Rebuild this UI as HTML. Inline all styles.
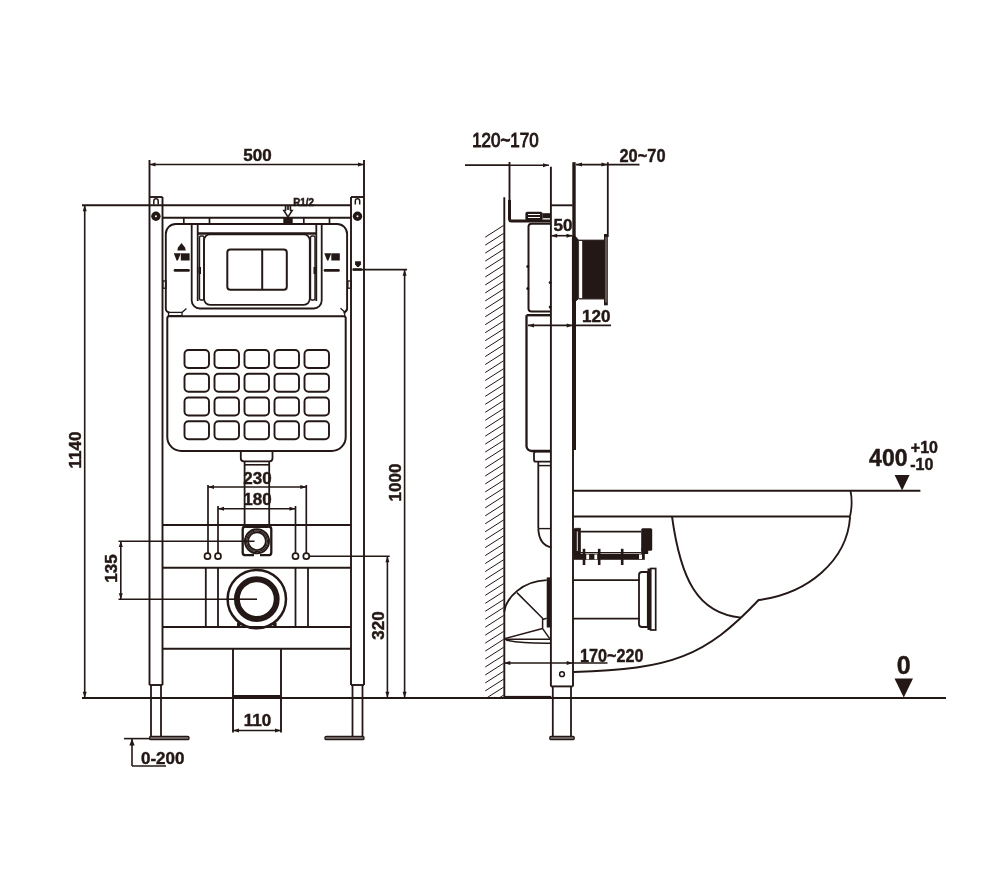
<!DOCTYPE html>
<html><head><meta charset="utf-8"><style>
html,body{margin:0;padding:0;background:#fff;width:1000px;height:889px;overflow:hidden}
svg{display:block;will-change:transform}
text{font-family:"Liberation Sans",sans-serif;fill:#231815;stroke:none}
</style></head><body>
<svg width="1000" height="889" viewBox="0 0 1000 889" stroke="#231815" fill="none" stroke-linecap="butt">
<rect x="0" y="0" width="1000" height="889" fill="#fff" stroke="none"/>
<text x="257.5" y="160.8" font-size="17" font-weight="bold" text-anchor="middle" style="stroke:#231815;stroke-width:0.45">500</text>
<line x1="149.5" y1="164.5" x2="364" y2="164.5" stroke-width="1.60"/>
<polygon points="149.50,164.50 155.50,162.50 155.50,166.50" stroke="none" fill="#231815"/>
<polygon points="364.00,164.50 358.00,162.50 358.00,166.50" stroke="none" fill="#231815"/>
<line x1="149.5" y1="160" x2="149.5" y2="685" stroke-width="1.90"/>
<line x1="162.5" y1="197" x2="162.5" y2="685" stroke-width="1.90"/>
<line x1="149.5" y1="197" x2="162.5" y2="197" stroke-width="1.90"/>
<line x1="149.5" y1="685" x2="162.5" y2="685" stroke-width="1.90"/>
<line x1="364" y1="160" x2="364" y2="685" stroke-width="1.90"/>
<line x1="351" y1="197" x2="351" y2="685" stroke-width="1.90"/>
<line x1="364" y1="197" x2="351" y2="197" stroke-width="1.90"/>
<line x1="364" y1="685" x2="351" y2="685" stroke-width="1.90"/>
<line x1="151" y1="685" x2="151" y2="737" stroke-width="1.80"/>
<line x1="161" y1="685" x2="161" y2="737" stroke-width="1.80"/>
<line x1="352.5" y1="685" x2="352.5" y2="737" stroke-width="1.80"/>
<line x1="362.5" y1="685" x2="362.5" y2="737" stroke-width="1.80"/>
<rect x="149.6" y="736.3" width="39.4" height="3.3" rx="1.2" stroke-width="1.30" fill="#6e6363"/>
<rect x="325" y="736.3" width="39" height="3.3" rx="1.2" stroke-width="1.30" fill="#6e6363"/>
<path d="M153.8,204.5 V201 a2.2,2.2 0 0 1 4.4,0 V204.5" stroke-width="1.50" fill="none"/>
<path d="M355.3,204.5 V201 a2.2,2.2 0 0 1 4.4,0 V204.5" stroke-width="1.50" fill="none"/>
<circle cx="155.9" cy="216.2" r="4.7" stroke="none" fill="#231815"/>
<circle cx="155.9" cy="216.2" r="1.0" stroke="none" fill="#fff"/>
<circle cx="357.5" cy="216.2" r="4.7" stroke="none" fill="#231815"/>
<circle cx="357.5" cy="216.2" r="1.0" stroke="none" fill="#fff"/>
<line x1="82" y1="205.3" x2="351" y2="205.3" stroke-width="1.90"/>
<line x1="162.5" y1="217.7" x2="351" y2="217.7" stroke-width="2.00"/>
<line x1="183.8" y1="217.7" x2="183.8" y2="223.8" stroke-width="1.70"/>
<line x1="209.5" y1="217.7" x2="209.5" y2="223.8" stroke-width="1.70"/>
<line x1="303.8" y1="217.7" x2="303.8" y2="223.8" stroke-width="1.70"/>
<line x1="329.5" y1="217.7" x2="329.5" y2="223.8" stroke-width="1.70"/>
<rect x="283.3" y="218" width="9.4" height="5.8" rx="0" stroke="none" fill="#231815"/>
<path d="M285.5,205.5 V210.5 H283.8 L288,217 L292.2,210.5 H290.5 V205.5" stroke-width="1.50" fill="none"/>
<line x1="287.3" y1="206" x2="287.3" y2="210" stroke-width="1.10"/>
<line x1="288.7" y1="206" x2="288.7" y2="210" stroke-width="1.10"/>
<text x="303.6" y="206.3" font-size="10" font-weight="bold" text-anchor="middle" textLength="20.8" lengthAdjust="spacingAndGlyphs" style="stroke:#231815;stroke-width:0.5">R1/2</text>
<path d="M169.5,312.5 a3.7,3.7 0 0 1 -3.7,-3.7 V234 a10,10 0 0 1 10,-10 H337.1 a10,10 0 0 1 10,10 V308.8 a3.7,3.7 0 0 1 -3.7,3.7" stroke-width="1.90" fill="none"/>
<path d="M167.3,318.2 a2,2 0 0 1 2,-2 H343.7 a2,2 0 0 1 2,2 V437 a14,14 0 0 1 -14,14 H181.3 a14,14 0 0 1 -14,-14 Z" stroke-width="2.00" fill="none"/>
<path d="M191.7,224 V300.5 a8,8 0 0 0 8,8 H313.7 a8,8 0 0 0 8,-8 V224" stroke-width="1.80" fill="none"/>
<line x1="197.7" y1="224.5" x2="197.7" y2="301" stroke-width="1.80"/>
<line x1="316.3" y1="224.5" x2="316.3" y2="301" stroke-width="1.80"/>
<line x1="197.7" y1="233.5" x2="316.3" y2="233.5" stroke-width="2.60"/>
<rect x="199.5" y="236" width="4.5" height="64" rx="1.5" stroke-width="1.40" fill="none"/>
<rect x="310.5" y="236" width="4.5" height="64" rx="1.5" stroke-width="1.40" fill="none"/>
<rect x="198.5" y="267" width="2.5" height="7" rx="0" stroke="none" fill="#231815"/>
<rect x="313.5" y="267" width="2.5" height="7" rx="0" stroke="none" fill="#231815"/>
<rect x="204" y="234.3" width="105.8" height="70.5" rx="6" stroke-width="1.80" fill="none"/>
<rect x="227.3" y="249.6" width="59.5" height="40.2" rx="3" stroke-width="2.00" fill="none"/>
<line x1="262.2" y1="249.6" x2="262.2" y2="289.8" stroke-width="2.00"/>
<path d="M181.5,243 L178,247.5 L177.3,250.5 H185.8 L185,247.5 Z" stroke="none" fill="#231815"/>
<polygon points="173.8,253.3 180.8,253.3 177.9,260.5 176.6,260.5" stroke="none" fill="#231815"/>
<rect x="180.8" y="253.3" width="8.8" height="7.2" stroke="none" fill="#231815"/>
<line x1="175" y1="270.4" x2="188.5" y2="270.4" stroke-width="2.7" stroke-linecap="round"/>
<polygon points="324.3,253.3 331.3,253.3 328.4,260.5 327.1,260.5" stroke="none" fill="#231815"/>
<rect x="331.3" y="253.3" width="8.5" height="7.2" stroke="none" fill="#231815"/>
<line x1="325" y1="270.4" x2="338.5" y2="270.4" stroke-width="2.7" stroke-linecap="round"/>
<path d="M355.1,261.2 H360.9 V264.5 L358.8,267 H357.2 L355.1,264.5 Z" stroke="none" fill="#231815"/>
<rect x="352.5" y="268.3" width="9.5" height="2.4" rx="0.8" stroke="none" fill="#231815"/>
<line x1="352.8" y1="269.6" x2="407" y2="269.6" stroke-width="1.60"/>
<rect x="162.8" y="281" width="3.2" height="7.2" rx="0" stroke-width="1.30" fill="none"/>
<rect x="347.9" y="281" width="3.2" height="7.2" rx="0" stroke-width="1.30" fill="none"/>
<rect x="168.5" y="312.4" width="13.5" height="3.3" rx="0" stroke-width="1.30" fill="none"/>
<line x1="182" y1="312.4" x2="186.4" y2="308.5" stroke-width="1.30"/>
<path d="M340.5,308.3 L344.7,312 L347.1,309 M344.7,312 V316.2" stroke-width="1.30" fill="none"/>
<rect x="184.5" y="350" width="24.5" height="18" rx="4" stroke-width="1.90" fill="none"/>
<rect x="214.5" y="350" width="24.5" height="18" rx="4" stroke-width="1.90" fill="none"/>
<rect x="244.5" y="350" width="24.5" height="18" rx="4" stroke-width="1.90" fill="none"/>
<rect x="274.5" y="350" width="24.5" height="18" rx="4" stroke-width="1.90" fill="none"/>
<rect x="304.5" y="350" width="24.5" height="18" rx="4" stroke-width="1.90" fill="none"/>
<rect x="184.5" y="373.8" width="24.5" height="18" rx="4" stroke-width="1.90" fill="none"/>
<rect x="214.5" y="373.8" width="24.5" height="18" rx="4" stroke-width="1.90" fill="none"/>
<rect x="244.5" y="373.8" width="24.5" height="18" rx="4" stroke-width="1.90" fill="none"/>
<rect x="274.5" y="373.8" width="24.5" height="18" rx="4" stroke-width="1.90" fill="none"/>
<rect x="304.5" y="373.8" width="24.5" height="18" rx="4" stroke-width="1.90" fill="none"/>
<rect x="184.5" y="397.5" width="24.5" height="18" rx="4" stroke-width="1.90" fill="none"/>
<rect x="214.5" y="397.5" width="24.5" height="18" rx="4" stroke-width="1.90" fill="none"/>
<rect x="244.5" y="397.5" width="24.5" height="18" rx="4" stroke-width="1.90" fill="none"/>
<rect x="274.5" y="397.5" width="24.5" height="18" rx="4" stroke-width="1.90" fill="none"/>
<rect x="304.5" y="397.5" width="24.5" height="18" rx="4" stroke-width="1.90" fill="none"/>
<rect x="184.5" y="421.3" width="24.5" height="18" rx="4" stroke-width="1.90" fill="none"/>
<rect x="214.5" y="421.3" width="24.5" height="18" rx="4" stroke-width="1.90" fill="none"/>
<rect x="244.5" y="421.3" width="24.5" height="18" rx="4" stroke-width="1.90" fill="none"/>
<rect x="274.5" y="421.3" width="24.5" height="18" rx="4" stroke-width="1.90" fill="none"/>
<rect x="304.5" y="421.3" width="24.5" height="18" rx="4" stroke-width="1.90" fill="none"/>
<path d="M240.8,451 V458.3 a3,3 0 0 0 3,3 H269.5 a3,3 0 0 0 3,-3 V451" stroke-width="1.80" fill="none"/>
<line x1="244.6" y1="464.8" x2="269.2" y2="464.8" stroke-width="1.60"/>
<line x1="244.6" y1="461" x2="244.6" y2="525" stroke-width="1.80"/>
<line x1="269.2" y1="461" x2="269.2" y2="525" stroke-width="1.80"/>
<text x="257.5" y="484.3" font-size="17" font-weight="bold" text-anchor="middle" style="stroke:#231815;stroke-width:0.45">230</text>
<line x1="208" y1="487" x2="306.3" y2="487" stroke-width="1.60"/>
<polygon points="208.00,487.00 214.00,485.00 214.00,489.00" stroke="none" fill="#231815"/>
<polygon points="306.30,487.00 300.30,485.00 300.30,489.00" stroke="none" fill="#231815"/>
<text x="257.5" y="505.3" font-size="17" font-weight="bold" text-anchor="middle" style="stroke:#231815;stroke-width:0.45">180</text>
<line x1="218" y1="508.8" x2="295.5" y2="508.8" stroke-width="1.60"/>
<polygon points="218.00,508.80 224.00,506.80 224.00,510.80" stroke="none" fill="#231815"/>
<polygon points="295.50,508.80 289.50,506.80 289.50,510.80" stroke="none" fill="#231815"/>
<line x1="208" y1="485" x2="208" y2="553" stroke-width="1.70"/>
<line x1="306.3" y1="485" x2="306.3" y2="553" stroke-width="1.70"/>
<line x1="218" y1="506" x2="218" y2="553" stroke-width="1.70"/>
<line x1="295.5" y1="506" x2="295.5" y2="553" stroke-width="1.70"/>
<line x1="162.5" y1="525" x2="351" y2="525" stroke-width="2.00"/>
<line x1="162.5" y1="567.7" x2="351" y2="567.7" stroke-width="2.00"/>
<path d="M254,555.2 H245.5 a2.8,2.8 0 0 1 -2.8,-2.8 V529.3 a2.8,2.8 0 0 1 2.8,-2.8 H268.5 a2.8,2.8 0 0 1 2.8,2.8 V552.4 a2.8,2.8 0 0 1 -2.8,2.8 H260" stroke-width="2.30" fill="none"/>
<rect x="245.5" y="524.8" width="23" height="3.2" rx="0" stroke="none" fill="#231815"/>
<circle cx="257" cy="541.2" r="12.0" stroke-width="2.00" fill="#fff"/>
<circle cx="257" cy="541.2" r="10.4" stroke-width="1.20" fill="none"/>
<circle cx="257" cy="541.2" r="8.9" stroke-width="1.90" fill="none"/>
<circle cx="207.5" cy="556.2" r="3.0" stroke-width="1.70" fill="#fff"/>
<circle cx="218" cy="556.2" r="3.0" stroke-width="1.70" fill="#fff"/>
<circle cx="295.5" cy="556.2" r="3.0" stroke-width="1.70" fill="#fff"/>
<circle cx="306.3" cy="556.2" r="3.0" stroke-width="1.70" fill="#fff"/>
<line x1="309.3" y1="556.2" x2="389.7" y2="556.2" stroke-width="1.60"/>
<line x1="118.5" y1="541.2" x2="254.5" y2="541.2" stroke-width="1.60"/>
<line x1="118.5" y1="599.2" x2="257" y2="599.2" stroke-width="1.60"/>
<line x1="120.8" y1="541" x2="120.8" y2="599.2" stroke-width="1.60"/>
<polygon points="120.80,541.00 118.80,547.00 122.80,547.00" stroke="none" fill="#231815"/>
<polygon points="120.80,599.20 118.80,593.20 122.80,593.20" stroke="none" fill="#231815"/>
<text x="117" y="568.5" font-size="17" font-weight="bold" text-anchor="middle" transform="rotate(-90 117 568.5)" style="stroke:#231815;stroke-width:0.45">135</text>
<line x1="205.8" y1="567.7" x2="205.8" y2="627" stroke-width="1.80"/>
<line x1="218" y1="567.7" x2="218" y2="627" stroke-width="1.80"/>
<line x1="295.5" y1="567.7" x2="295.5" y2="627" stroke-width="1.80"/>
<line x1="308" y1="567.7" x2="308" y2="627" stroke-width="1.80"/>
<circle cx="256.8" cy="599.1" r="29.2" stroke-width="2.50" fill="#fff"/>
<circle cx="256.8" cy="599.1" r="19.9" stroke-width="5.90" fill="none"/>
<rect x="237" y="622.5" width="3.4" height="4.5" rx="1" stroke="none" fill="#231815"/>
<rect x="273.2" y="622.5" width="3.4" height="4.5" rx="1" stroke="none" fill="#231815"/>
<line x1="227" y1="599.2" x2="257" y2="599.2" stroke-width="1.60"/>
<line x1="162.5" y1="627" x2="351" y2="627" stroke-width="2.00"/>
<line x1="162.5" y1="648.8" x2="351" y2="648.8" stroke-width="2.00"/>
<line x1="233" y1="648.8" x2="233" y2="732.5" stroke-width="1.90"/>
<line x1="281" y1="648.8" x2="281" y2="732.5" stroke-width="1.90"/>
<line x1="233" y1="696.5" x2="281" y2="696.5" stroke-width="3.20"/>
<line x1="82" y1="698" x2="946" y2="698" stroke-width="2.00"/>
<rect x="504.1" y="695.9" width="47.1" height="2.9" rx="0" stroke="none" fill="#231815"/>
<line x1="84.7" y1="205.3" x2="84.7" y2="697.8" stroke-width="1.60"/>
<polygon points="84.70,205.30 82.70,211.30 86.70,211.30" stroke="none" fill="#231815"/>
<polygon points="84.70,697.80 82.70,691.80 86.70,691.80" stroke="none" fill="#231815"/>
<text x="80.8" y="450" font-size="17" font-weight="bold" text-anchor="middle" transform="rotate(-90 80.8 450)" style="stroke:#231815;stroke-width:0.45">1140</text>
<line x1="404.6" y1="269.8" x2="404.6" y2="697.8" stroke-width="1.60"/>
<polygon points="404.60,269.80 402.60,275.80 406.60,275.80" stroke="none" fill="#231815"/>
<polygon points="404.60,697.80 402.60,691.80 406.60,691.80" stroke="none" fill="#231815"/>
<text x="401.2" y="482.5" font-size="17" font-weight="bold" text-anchor="middle" transform="rotate(-90 401.2 482.5)" style="stroke:#231815;stroke-width:0.45">1000</text>
<line x1="387.4" y1="556.2" x2="387.4" y2="697.8" stroke-width="1.60"/>
<polygon points="387.40,556.20 385.40,562.20 389.40,562.20" stroke="none" fill="#231815"/>
<polygon points="387.40,697.80 385.40,691.80 389.40,691.80" stroke="none" fill="#231815"/>
<text x="384.2" y="625.5" font-size="17" font-weight="bold" text-anchor="middle" transform="rotate(-90 384.2 625.5)" style="stroke:#231815;stroke-width:0.45">320</text>
<line x1="233" y1="730.5" x2="281" y2="730.5" stroke-width="1.60"/>
<polygon points="233.00,730.50 239.00,728.50 239.00,732.50" stroke="none" fill="#231815"/>
<polygon points="281.00,730.50 275.00,728.50 275.00,732.50" stroke="none" fill="#231815"/>
<text x="257.5" y="726.2" font-size="17" font-weight="bold" text-anchor="middle" style="stroke:#231815;stroke-width:0.45">110</text>
<line x1="124" y1="738.6" x2="150" y2="738.6" stroke-width="1.60"/>
<line x1="132" y1="738.6" x2="132" y2="766" stroke-width="1.60"/>
<polygon points="132.00,738.60 129.40,745.60 134.60,745.60" stroke="none" fill="#231815"/>
<line x1="132" y1="766" x2="166" y2="766" stroke-width="1.60"/>
<text x="141" y="764.2" font-size="17" font-weight="bold" text-anchor="start" style="stroke:#231815;stroke-width:0.45">0-200</text>
<text x="472.2" y="147.2" font-size="21" font-weight="normal" text-anchor="start" textLength="66.4" lengthAdjust="spacingAndGlyphs" style="stroke:#231815;stroke-width:1.1">120~170</text>
<line x1="465" y1="165.2" x2="509" y2="165.2" stroke-width="1.70"/>
<line x1="509" y1="165.2" x2="549" y2="165.2" stroke-width="1.60"/>
<polygon points="549.00,165.20 543.00,163.20 543.00,167.20" stroke="none" fill="#231815"/>
<line x1="509.5" y1="162" x2="509.5" y2="215" stroke-width="1.90"/>
<path d="M509.5,200 V219 a2,2 0 0 0 2,2 H550" stroke-width="3.00" fill="none"/>
<rect x="525.4" y="211.7" width="17.2" height="9.2" rx="2" stroke="none" fill="#231815"/>
<rect x="528" y="214" width="12" height="1" fill="#fff" stroke="none"/>
<rect x="528" y="217" width="12" height="1" fill="#fff" stroke="none"/>
<rect x="542.5" y="213.2" width="8" height="5" rx="0" stroke="none" fill="#231815"/>
<line x1="504.3" y1="197.3" x2="504.3" y2="698" stroke-width="1.90"/>
<clipPath id="hc"><rect x="484" y="220" width="20" height="477.5"/></clipPath>
<path d="M485.2,237.20 L503.7,225.40 M485.2,245.16 L503.7,233.36 M485.2,253.12 L503.7,241.32 M485.2,261.08 L503.7,249.28 M485.2,269.04 L503.7,257.24 M485.2,277.00 L503.7,265.20 M485.2,284.96 L503.7,273.16 M485.2,292.92 L503.7,281.12 M485.2,300.88 L503.7,289.08 M485.2,308.84 L503.7,297.04 M485.2,316.80 L503.7,305.00 M485.2,324.76 L503.7,312.96 M485.2,332.72 L503.7,320.92 M485.2,340.68 L503.7,328.88 M485.2,348.64 L503.7,336.84 M485.2,356.60 L503.7,344.80 M485.2,364.56 L503.7,352.76 M485.2,372.52 L503.7,360.72 M485.2,380.48 L503.7,368.68 M485.2,388.44 L503.7,376.64 M485.2,396.40 L503.7,384.60 M485.2,404.36 L503.7,392.56 M485.2,412.32 L503.7,400.52 M485.2,420.28 L503.7,408.48 M485.2,428.24 L503.7,416.44 M485.2,436.20 L503.7,424.40 M485.2,444.16 L503.7,432.36 M485.2,452.12 L503.7,440.32 M485.2,460.08 L503.7,448.28 M485.2,468.04 L503.7,456.24 M485.2,476.00 L503.7,464.20 M485.2,483.96 L503.7,472.16 M485.2,491.92 L503.7,480.12 M485.2,499.88 L503.7,488.08 M485.2,507.84 L503.7,496.04 M485.2,515.80 L503.7,504.00 M485.2,523.76 L503.7,511.96 M485.2,531.72 L503.7,519.92 M485.2,539.68 L503.7,527.88 M485.2,547.64 L503.7,535.84 M485.2,555.60 L503.7,543.80 M485.2,563.56 L503.7,551.76 M485.2,571.52 L503.7,559.72 M485.2,579.48 L503.7,567.68 M485.2,587.44 L503.7,575.64 M485.2,595.40 L503.7,583.60 M485.2,603.36 L503.7,591.56 M485.2,611.32 L503.7,599.52 M485.2,619.28 L503.7,607.48 M485.2,627.24 L503.7,615.44 M485.2,635.20 L503.7,623.40 M485.2,643.16 L503.7,631.36 M485.2,651.12 L503.7,639.32 M485.2,659.08 L503.7,647.28 M485.2,667.04 L503.7,655.24 M485.2,675.00 L503.7,663.20 M485.2,682.96 L503.7,671.16 M485.2,690.92 L503.7,679.12 M485.2,698.88 L503.7,687.08 M485.2,706.84 L503.7,695.04" stroke-width="1.0" fill="none" clip-path="url(#hc)"/>
<path d="M550.7,223.8 H531.5 a3,3 0 0 0 -3,3 V308.6 a3,3 0 0 0 3,3 H550.7" stroke-width="2.00" fill="none"/>
<line x1="526.5" y1="315.2" x2="550.7" y2="315.2" stroke-width="2.40"/>
<path d="M526.5,315.2 V446 a5,5 0 0 0 5,5 H550.7" stroke-width="2.30" fill="none"/>
<circle cx="527.8" cy="266.4" r="1.5" stroke="none" fill="#231815"/>
<circle cx="527.8" cy="288.6" r="1.5" stroke="none" fill="#231815"/>
<circle cx="550.2" cy="282.6" r="1.5" stroke="none" fill="#231815"/>
<circle cx="550.2" cy="306.9" r="1.5" stroke="none" fill="#231815"/>
<path d="M550.7,451.5 H536 a2,2 0 0 0 -2,2 V459.7 a2,2 0 0 0 2,2 H550.7" stroke-width="1.80" fill="none"/>
<line x1="538.3" y1="461.7" x2="538.3" y2="528.6" stroke-width="1.80"/>
<line x1="538.3" y1="465.6" x2="551" y2="465.6" stroke-width="1.50"/>
<line x1="538.3" y1="528.6" x2="551" y2="528.6" stroke-width="1.40"/>
<path d="M538.3,528.6 Q539,545 551.5,547.4" stroke-width="1.80" fill="none"/>
<line x1="550.9" y1="166.7" x2="550.9" y2="686.4" stroke-width="1.90"/>
<line x1="573.0" y1="237" x2="573.0" y2="686.4" stroke-width="1.90"/>
<rect x="572.3" y="162.2" width="3.4" height="75" rx="0" stroke="none" fill="#231815"/>
<rect x="572.4" y="300" width="3.6" height="150" rx="0" stroke="none" fill="#231815"/>
<line x1="550.9" y1="205.3" x2="572.7" y2="205.3" stroke-width="1.90"/>
<line x1="550.9" y1="686.4" x2="572.7" y2="686.4" stroke-width="1.90"/>
<line x1="552.8" y1="686.4" x2="552.8" y2="736.5" stroke-width="1.80"/>
<line x1="571" y1="686.4" x2="571" y2="736.5" stroke-width="1.80"/>
<rect x="549.8" y="736.3" width="24.4" height="3.3" rx="1.2" stroke-width="1.30" fill="#6e6363"/>
<circle cx="562" cy="674.2" r="2.4" stroke-width="1.50" fill="none"/>
<text x="619.5" y="162.2" font-size="17.5" font-weight="bold" text-anchor="start" textLength="46" lengthAdjust="spacingAndGlyphs" style="stroke:#231815;stroke-width:0.4">20~70</text>
<line x1="576" y1="164.6" x2="639.5" y2="164.6" stroke-width="1.60"/>
<polygon points="576.00,164.60 582.00,162.60 582.00,166.60" stroke="none" fill="#231815"/>
<polygon points="607.50,164.60 601.50,162.60 601.50,166.60" stroke="none" fill="#231815"/>
<line x1="607.8" y1="162.2" x2="607.8" y2="237" stroke-width="1.80"/>
<text x="563" y="231.2" font-size="17" font-weight="bold" text-anchor="middle" style="stroke:#231815;stroke-width:0.45">50</text>
<line x1="551.2" y1="235.7" x2="572.5" y2="235.7" stroke-width="1.60"/>
<polygon points="551.20,235.70 557.20,233.70 557.20,237.70" stroke="none" fill="#231815"/>
<polygon points="572.50,235.70 566.50,233.70 566.50,237.70" stroke="none" fill="#231815"/>
<path d="M572.4,236.5 H575.5 L578.6,240 V298.5 L575.5,301.5 H572.4 Z" stroke-width="0.70" fill="#231815"/>
<rect x="582.2" y="240.8" width="22.5" height="57.8" rx="0" stroke="none" fill="#231815"/>
<line x1="578.6" y1="240.3" x2="604.5" y2="240.3" stroke-width="1.30"/>
<line x1="578.6" y1="298.8" x2="604.5" y2="298.8" stroke-width="1.30"/>
<rect x="604.0" y="234" width="3.8" height="71.3" rx="0" stroke="none" fill="#231815"/>
<line x1="606.0" y1="237" x2="606.0" y2="302.5" stroke="#a09696" stroke-width="1.0"/>
<text x="596.3" y="321.5" font-size="17" font-weight="bold" text-anchor="middle" style="stroke:#231815;stroke-width:0.45">120</text>
<line x1="528" y1="325.4" x2="611" y2="325.4" stroke-width="1.60"/>
<polygon points="528.00,325.40 534.00,323.40 534.00,327.40" stroke="none" fill="#231815"/>
<polygon points="572.70,325.40 566.70,323.40 566.70,327.40" stroke="none" fill="#231815"/>
<line x1="572.7" y1="490.8" x2="920.4" y2="490.8" stroke-width="2.00"/>
<line x1="572.7" y1="516.5" x2="850" y2="516.5" stroke-width="1.90"/>
<path d="M850.5,490.8 Q853,503 850,516.5" stroke-width="1.80" fill="none"/>
<path d="M850.1,516.8 C847.1,561.3 807.3,593.6 758.6,600 C705.3,656.4 671.9,669.2 574,672" stroke-width="1.90" fill="none"/>
<path d="M672,516.5 C680.6,579.1 697.5,613.7 741,617.6" stroke-width="1.90" fill="none"/>
<polygon points="894.6,475 909.6,475 902.1,490.5" stroke="none" fill="#231815"/>
<text x="888.3" y="466" font-size="23" font-weight="bold" text-anchor="middle" style="stroke:#231815;stroke-width:0.45">400</text>
<text x="910.8" y="453.4" font-size="16" font-weight="bold" text-anchor="start" style="stroke:#231815;stroke-width:0.45">+10</text>
<text x="910.2" y="470.2" font-size="16" font-weight="bold" text-anchor="start" style="stroke:#231815;stroke-width:0.45">-10</text>
<polygon points="894.5,678.5 913,678.5 903.75,697.5" stroke="none" fill="#231815"/>
<text x="903.75" y="674" font-size="25" font-weight="bold" text-anchor="middle" style="stroke:#231815;stroke-width:0.45">0</text>
<path d="M573.5,553.9 V529.5 L575,528.3 H580.5 V553.9 Z" stroke-width="0.70" fill="#231815"/>
<line x1="577.3" y1="531.5" x2="577.3" y2="551" stroke="#fff" stroke-width="0.9"/>
<line x1="580.5" y1="531.6" x2="641.2" y2="531.6" stroke-width="1.80"/>
<line x1="580.5" y1="552.6" x2="641.2" y2="552.6" stroke-width="1.40"/>
<rect x="641.2" y="528.3" width="11" height="22.5" rx="1.5" stroke="none" fill="#231815"/>
<rect x="641.2" y="548" width="7" height="6" rx="0" stroke="none" fill="#231815"/>
<rect x="573.5" y="553.8" width="71.3" height="6" rx="0" stroke="none" fill="#231815"/>
<rect x="586.3" y="554.5" width="2.8" height="4.8" fill="#fff" stroke="none"/>
<rect x="594.4" y="554.5" width="2.8" height="4.8" fill="#fff" stroke="none"/>
<rect x="639" y="554.5" width="3" height="4.5" fill="#fff" stroke="none"/>
<line x1="584" y1="548.8" x2="584" y2="565" stroke-width="2.60"/>
<line x1="599.2" y1="548.8" x2="599.2" y2="565" stroke-width="2.60"/>
<line x1="622.2" y1="548.8" x2="622.2" y2="565" stroke-width="2.60"/>
<line x1="573" y1="580.2" x2="639.7" y2="580.2" stroke-width="1.80"/>
<line x1="573" y1="618.6" x2="639.7" y2="618.6" stroke-width="1.80"/>
<path d="M647.8,572 H642 a3,3 0 0 0 -3,3 V624 a3,3 0 0 0 3,3 H647.8 Z" stroke-width="1.80" fill="none"/>
<rect x="647.5" y="568.5" width="3.3" height="61.5" rx="0" stroke="none" fill="#231815"/>
<rect x="650.7" y="568.5" width="5" height="61.5" rx="0" stroke-width="1.70" fill="none"/>
<path d="M546.7,580.2 C522,581 506,598 504.3,611.7" stroke-width="1.80" fill="none"/>
<line x1="516.9" y1="592.6" x2="543.3" y2="619" stroke-width="1.50"/>
<path d="M546.7,618.3 L542.6,619.5 V628.6 L550.6,639.9" stroke-width="1.50" fill="none"/>
<line x1="504.3" y1="638.7" x2="542.6" y2="628.6" stroke-width="1.50"/>
<line x1="504.3" y1="639.3" x2="550.6" y2="639.3" stroke-width="1.50"/>
<path d="M506,640 Q520,643.5 550.6,643.2" stroke-width="1.50" fill="none"/>
<rect x="546.7" y="577.4" width="4.5" height="50.1" rx="0" stroke="none" fill="#231815"/>
<text x="580" y="661.6" font-size="17.5" font-weight="bold" text-anchor="start" textLength="63.5" lengthAdjust="spacingAndGlyphs" style="stroke:#231815;stroke-width:0.4">170~220</text>
<line x1="504.3" y1="663" x2="607.5" y2="663" stroke-width="1.60"/>
<polygon points="504.30,663.00 510.30,661.00 510.30,665.00" stroke="none" fill="#231815"/>
<polygon points="572.70,663.00 566.70,661.00 566.70,665.00" stroke="none" fill="#231815"/>
</svg></body></html>
